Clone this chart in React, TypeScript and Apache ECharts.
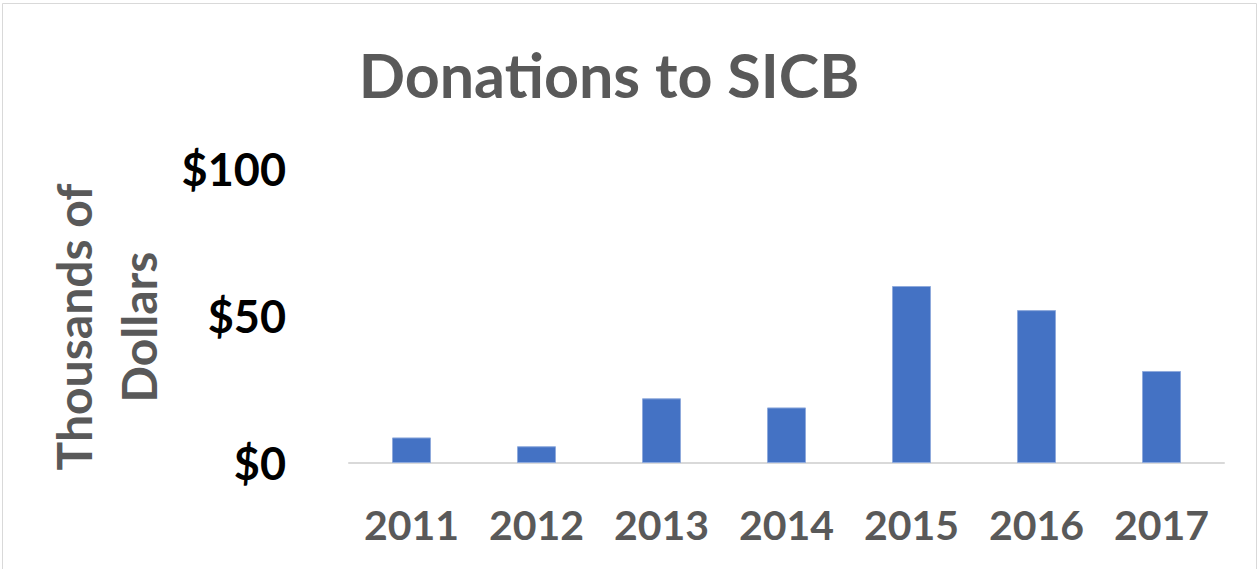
import React, { useEffect, useRef } from "react";
import * as echarts from "echarts";

const categories = ["2011", "2012", "2013", "2014", "2015", "2016", "2017"];
const donations = [8.7, 5.7, 22.0, 18.9, 60.2, 52.0, 31.3];
const yTicks = [0, 50, 100];
const titleText = "Donations to SICB";
const yAxisTitle = "Thousands of\nDollars";

const FONT = "Lato, 'Noto Sans', sans-serif";

export default function App() {
  const ref = useRef<HTMLDivElement>(null);
  useEffect(() => {
    if (!ref.current) return;
    const chart = echarts.init(ref.current, undefined, { renderer: "svg" });
    chart.setOption({
      animation: false,
      backgroundColor: "#ffffff",
      title: {
        text: titleText,
        left: 604,
        top: 38,
        textAlign: "center",
        textStyle: {
          fontFamily: FONT,
          fontWeight: "bold",
          fontSize: 61,
          lineHeight: 62,
          color: "#595959",
        },
      },
      graphic: [
        {
          type: "rect",
          shape: { x: 2.5, y: 3.5, width: 1254, height: 580 },
          style: { fill: "none", stroke: "#d9d9d9", lineWidth: 1 },
          silent: true,
        },
        {
          type: "text",
          x: 106,
          y: 327,
          rotation: Math.PI / 2,
          style: {
            text: yAxisTitle,
            align: "center",
            verticalAlign: "middle",
            fontFamily: FONT,
            fontWeight: "bold",
            fontSize: 48,
            lineHeight: 65,
            fill: "#595959",
          },
        },
      ],
      grid: { left: 349, right: 35, top: 169, bottom: 106 },
      xAxis: {
        type: "category",
        data: categories,
        axisLine: { lineStyle: { color: "#d9d9d9", width: 2 } },
        axisTick: { show: false },
        axisLabel: {
          margin: 41,
          fontFamily: FONT,
          fontWeight: "bold",
          fontSize: 41,
          lineHeight: 41,
          color: "#595959",
        },
      },
      yAxis: {
        type: "value",
        min: yTicks[0],
        max: yTicks[yTicks.length - 1],
        interval: 50,
        splitLine: { show: false },
        axisLine: { show: false },
        axisTick: { show: false },
        axisLabel: {
          margin: 63,
          fontFamily: FONT,
          fontWeight: "bold",
          fontSize: 45,
          color: "#000000",
          formatter: (v: number) => "$" + v,
        },
      },
      series: [
        {
          type: "bar",
          data: donations,
          barWidth: 39,
          itemStyle: { color: "#4472C4", borderColor: "#8faadc", borderWidth: 1 },
        },
      ],
    });
    return () => chart.dispose();
  }, []);
  return (
    <div
      ref={ref}
      style={{ position: "fixed", left: 0, top: 0, width: 1259, height: 569 }}
    />
  );
}
